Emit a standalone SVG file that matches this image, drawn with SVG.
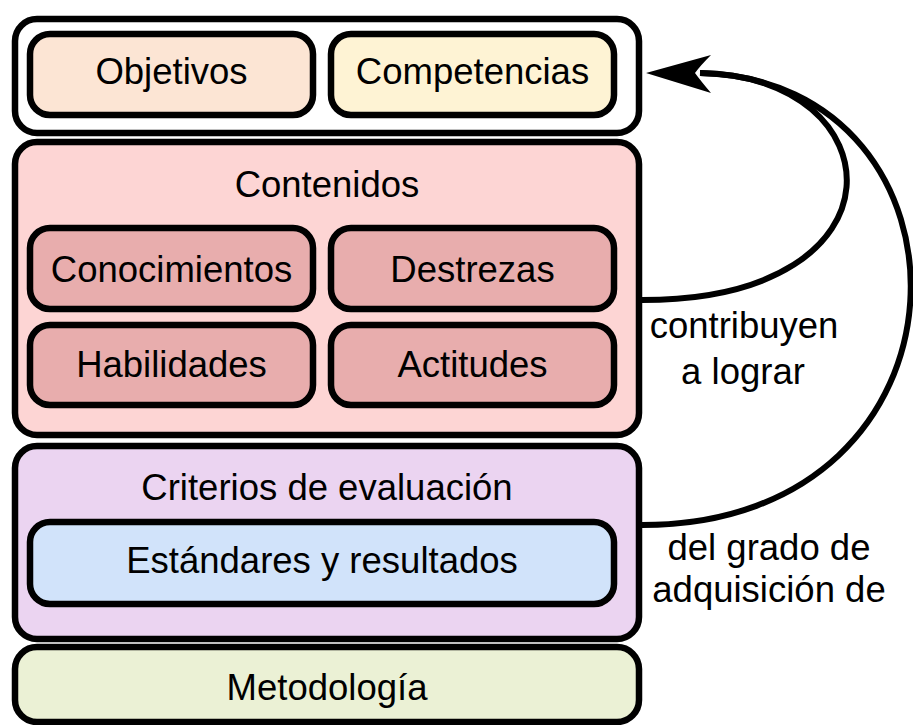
<svg xmlns="http://www.w3.org/2000/svg" width="913" height="725" viewBox="0 0 913 725">
<style>
.box{stroke:#000;stroke-width:6.5;}
.t{font-family:"Liberation Sans",Arial,sans-serif;font-size:36.5px;fill:#000;text-anchor:middle;}
.c{fill:none;stroke:#000;stroke-width:6;}
</style>
<rect width="913" height="725" fill="#fff"/>
<g id="grupo-superior">
<rect class="box" x="15" y="19" width="624" height="114" rx="22" fill="#ffffff"/>
</g>
<g id="objetivos">
<rect class="box" x="30" y="34" width="283" height="81" rx="20" fill="#fce5d4"/>
<text class="t" x="171.5" y="84">Objetivos</text>
</g>
<g id="competencias">
<rect class="box" x="331" y="34" width="283" height="81" rx="20" fill="#fef3d4"/>
<text class="t" x="472.5" y="84">Competencias</text>
</g>
<g id="contenidos">
<rect class="box" x="15" y="142" width="624" height="293" rx="22" fill="#fdd5d4"/>
<text class="t" x="327" y="197">Contenidos</text>
</g>
<g id="conocimientos">
<rect class="box" x="30" y="228" width="283" height="81" rx="20" fill="#e8adad"/>
<text class="t" x="171.5" y="282">Conocimientos</text>
</g>
<g id="destrezas">
<rect class="box" x="331" y="228" width="283" height="81" rx="20" fill="#e8adad"/>
<text class="t" x="472.5" y="282">Destrezas</text>
</g>
<g id="habilidades">
<rect class="box" x="30" y="325" width="283" height="80" rx="20" fill="#e8adad"/>
<text class="t" x="171.5" y="377">Habilidades</text>
</g>
<g id="actitudes">
<rect class="box" x="331" y="325" width="283" height="80" rx="20" fill="#e8adad"/>
<text class="t" x="472.5" y="377">Actitudes</text>
</g>
<g id="criterios">
<rect class="box" x="15" y="446" width="624" height="193" rx="22" fill="#ebd4f1"/>
<text class="t" x="327" y="500">Criterios de evaluación</text>
</g>
<g id="estandares">
<rect class="box" x="30" y="522" width="584" height="82" rx="20" fill="#d1e3fa"/>
<text class="t" x="322" y="573">Estándares y resultados</text>
</g>
<g id="metodologia">
<rect class="box" x="15" y="647" width="624" height="75" rx="22" fill="#ebf1d5"/>
<text class="t" x="327" y="700">Metodología</text>
</g>
<g id="conectores">
<path class="c" d="M 642 300 C 915 300 895 75 700 73"/>
<path class="c" d="M 642 525 C 990 525 990 80 700 73"/>
<path d="M 646 73 L 711 55 Q 700 66 695 73 Q 700 80 711 93 Z" fill="#000"/>
</g>
<g id="etiquetas">
<text class="t" x="744" y="338">contribuyen</text>
<text class="t" x="743" y="384">a lograr</text>
<text class="t" x="769" y="560">del grado de</text>
<text class="t" x="769" y="602">adquisición de</text>
</g>
</svg>
